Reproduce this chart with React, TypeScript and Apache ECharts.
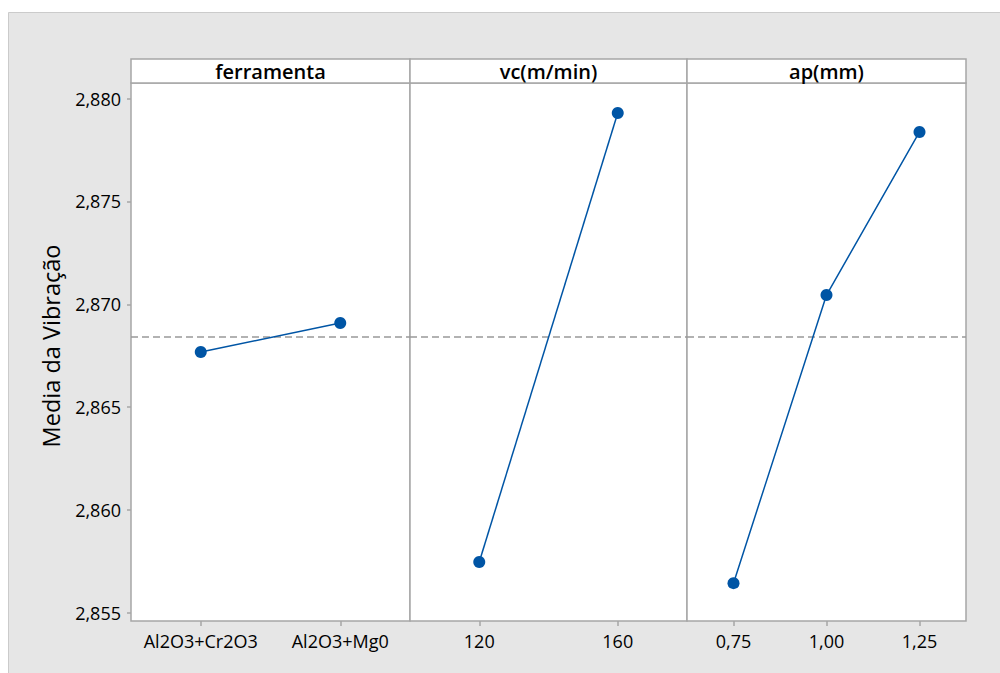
import React, { useEffect, useRef } from "react";
import * as echarts from "echarts";

const panelTitles = ["ferramenta", "vc(m/min)", "ap(mm)"];
const ferramentaCats = ["Al2O3+Cr2O3", "Al2O3+Mg0"];
const ferramentaVals = [2.86768, 2.86909];
const vcCats = ["120", "160"];
const vcVals = [2.85747, 2.8793];
const apCats = ["0,75", "1,00", "1,25"];
const apVals = [2.85644, 2.87045, 2.87838];
const grandMean = 2.86841;
const yTicks = [2.855, 2.86, 2.865, 2.87, 2.875, 2.88];
const yLabel = "Media da Vibração";

const FONT = "'Open Sans', 'Noto Sans', sans-serif";
const BLUE = "#0055a5";
const BORDER = "#a6a6a6";

export default function App() {
  const ref = useRef<HTMLDivElement>(null);
  useEffect(() => {
    if (!ref.current) return;
    const chart = echarts.init(ref.current, null, { renderer: "svg" });
    const panels = [
      { left: 131, width: 279, cats: ferramentaCats, vals: ferramentaVals },
      { left: 410, width: 277, cats: vcCats, vals: vcVals },
      { left: 687, width: 279, cats: apCats, vals: apVals },
    ];
    const top = 83;
    const height = 538;
    const yMin = 2.8546;
    const yMax = 2.88076;
    const fmt = (v: number) => v.toFixed(3).replace(".", ",");

    const option: any = {
      animation: false,
      backgroundColor: "#ffffff",
      grid: panels.map((p) => ({
        left: p.left,
        top,
        width: p.width,
        height,
        show: true,
        backgroundColor: "#ffffff",
        borderColor: BORDER,
        borderWidth: 1.5,
        containLabel: false,
      })),
      xAxis: panels.map((p, i) => ({
        type: "category",
        gridIndex: i,
        data: p.cats,
        boundaryGap: true,
        axisLine: { show: false },
        axisTick: { show: true, alignWithLabel: true, interval: 0, length: 5, lineStyle: { color: BORDER, width: 1.5 } },
        axisLabel: { color: "#000", fontSize: 18, fontFamily: FONT, margin: 11, interval: 0, hideOverlap: false },
        splitLine: { show: false },
      })),
      yAxis: panels.map((p, i) => ({
        type: "value",
        gridIndex: i,
        min: yMin,
        max: yMax,
        show: i === 0,
        axisLine: { show: false },
        axisTick: { show: true, length: 4, customValues: yTicks, lineStyle: { color: BORDER, width: 1.5 } },
        axisLabel: {
          show: true,
          customValues: yTicks,
          formatter: (v: number) => fmt(v),
          color: "#000",
          fontSize: 18,
          fontFamily: FONT,
          margin: 10,
        },
        splitLine: { show: false },
      })),
      series: panels.map((p, i) => ({
        type: "line",
        xAxisIndex: i,
        yAxisIndex: i,
        data: p.vals,
        symbol: "circle",
        symbolSize: 12,
        itemStyle: { color: BLUE },
        lineStyle: { color: BLUE, width: 1.5 },
        z: 5,
        markLine: {
          silent: true,
          symbol: "none",
          precision: 6,
          label: { show: false },
          lineStyle: { color: "#999999", type: [7, 4], width: 1.5 },
          data: [{ yAxis: grandMean }],
          z: 3,
        },
      })),
      graphic: [
        {
          type: "rect",
          z: -100,
          shape: { x: 8.5, y: 12.5, width: 1000, height: 670 },
          style: { fill: "#e6e6e6", stroke: "#cbcbcb", lineWidth: 1 },
        },
        ...panels.map((p) => ({
          type: "rect",
          z: 10,
          shape: { x: p.left, y: 59, width: p.width, height: 24 },
          style: { fill: "#ffffff", stroke: BORDER, lineWidth: 1.5 },
        })),
        ...panels.map((p, i) => ({
          type: "text",
          z: 11,
          x: p.left + p.width / 2,
          y: 71,
          style: {
            text: panelTitles[i],
            fill: "#000",
            font: `600 20px ${FONT}`,
            align: "center",
            verticalAlign: "middle",
          },
        })),
        {
          type: "text",
          z: 11,
          x: 51,
          y: 346,
          rotation: Math.PI / 2,
          style: {
            text: yLabel,
            fill: "#000",
            font: `23.5px ${FONT}`,
            align: "center",
            verticalAlign: "middle",
          },
        },
      ],
    };
    chart.setOption(option);
    return () => chart.dispose();
  }, []);
  return (
    <div
      ref={ref}
      style={{ position: "fixed", left: 0, top: 0, width: 1000, height: 673 }}
    />
  );
}
